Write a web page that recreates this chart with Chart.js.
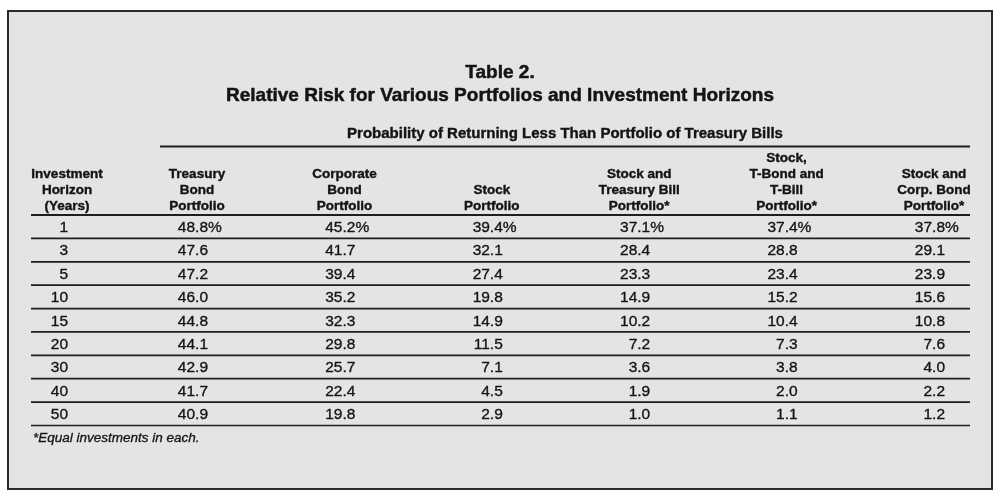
<!DOCTYPE html>
<html>
<head>
<meta charset="utf-8">
<title>Table 2. Relative Risk for Various Portfolios and Investment Horizons</title>
<script src="https://cdn.jsdelivr.net/npm/chart.js@4.4.1/dist/chart.umd.min.js"></script>
<style>
  html, body { margin: 0; padding: 0; background: #ffffff; }
  canvas { display: block; }
</style>
</head>
<body>
<canvas id="riskTable" width="1000" height="497"></canvas>
<script>
// row labels (investment horizon, years)
const years = ['1', '3', '5', '10', '15', '20', '30', '40', '50'];

// column headers, one entry per printed line
const horizonHeader = ['Investment', 'Horizon', '(Years)'];
const portfolioHeaders = [
  ['Treasury', 'Bond', 'Portfolio'],
  ['Corporate', 'Bond', 'Portfolio'],
  ['Stock', 'Portfolio'],
  ['Stock and', 'Treasury Bill', 'Portfolio*'],
  ['Stock,', 'T-Bond and', 'T-Bill', 'Portfolio*'],
  ['Stock and', 'Corp. Bond', 'Portfolio*']
];
const portfolios = portfolioHeaders.map(h => h.join(' '));

// probability (%) of returning less than a portfolio of T-bills
const treasuryBond = [48.8, 47.6, 47.2, 46.0, 44.8, 44.1, 42.9, 41.7, 40.9];
const corporateBond = [45.2, 41.7, 39.4, 35.2, 32.3, 29.8, 25.7, 22.4, 19.8];
const stockOnly = [39.4, 32.1, 27.4, 19.8, 14.9, 11.5, 7.1, 4.5, 2.9];
const stockTBill = [37.1, 28.4, 23.3, 14.9, 10.2, 7.2, 3.6, 1.9, 1.0];
const stockTBondTBill = [37.4, 28.8, 23.4, 15.2, 10.4, 7.3, 3.8, 2.0, 1.1];
const stockCorpBond = [37.8, 29.1, 23.9, 15.6, 10.8, 7.6, 4.0, 2.2, 1.2];

const seriesList = [treasuryBond, corporateBond, stockOnly, stockTBill, stockTBondTBill, stockCorpBond];

const titleLines = ['Table 2.', 'Relative Risk for Various Portfolios and Investment Horizons'];
const spannerText = 'Probability of Returning Less Than Portfolio of Treasury Bills';
const footnote = '*Equal investments in each.';

const FONT = '"Liberation Sans", Arial, Helvetica, sans-serif';
const INK = '#141414';

const datasets = seriesList.map((values, c) => ({
  label: portfolios[c],
  data: values.map((v, r) => ({ x: portfolios[c], y: years[r], v: v })),
  showLine: false,
  pointRadius: 0,
  pointHoverRadius: 0
}));

function rule(ctx, x1, x2, y, w) {
  ctx.beginPath();
  ctx.lineWidth = w;
  ctx.strokeStyle = '#1e1e1e';
  ctx.moveTo(x1, y);
  ctx.lineTo(x2, y);
  ctx.stroke();
}

// the scan prints a bit heavier than a clean font, so ink each glyph twice
function inkText(ctx, text, x, y, weight) {
  ctx.fillText(text, x, y);
  ctx.lineWidth = weight;
  ctx.strokeText(text, x, y);
}

const tablePlugin = {
  id: 'tablePlugin',
  beforeDraw(chart) {
    const ctx = chart.ctx;
    ctx.save();
    ctx.fillStyle = '#ffffff';
    ctx.fillRect(0, 0, chart.width, chart.height);
    // scanned page panel
    ctx.fillStyle = '#e4e4e4';
    ctx.fillRect(8, 11, 984, 478);
    ctx.lineWidth = 2;
    ctx.strokeStyle = '#2b2b2b';
    ctx.strokeRect(8, 11, 984, 478);
    ctx.restore();
  },
  afterDatasetsDraw(chart) {
    const ctx = chart.ctx;
    const xs = chart.scales.x;
    const ys = chart.scales.y;
    const lineLeft = 31, lineRight = 970;
    ctx.save();
    ctx.fillStyle = INK;
    ctx.strokeStyle = INK;
    ctx.lineJoin = 'round';
    ctx.textBaseline = 'middle';

    // title
    ctx.textAlign = 'center';
    ctx.font = 'bold 19px ' + FONT;
    titleLines.forEach((t, i) => inkText(ctx, t, 500, 73 + i * 23, 0.5));

    // spanner over the portfolio columns
    ctx.font = 'bold 15px ' + FONT;
    inkText(ctx, spannerText, (160 + lineRight) / 2, 134, 0.4);
    rule(ctx, 160, lineRight, 146.5, 2.2);

    // column headers, aligned on their last line
    ctx.fillStyle = INK;
    ctx.strokeStyle = INK;
    const headerBottom = ys.top - 9;
    ctx.font = 'bold 13.5px ' + FONT;
    const drawHeader = (lines, x) => {
      lines.forEach((t, i) => inkText(ctx, t, x, headerBottom - (lines.length - 1 - i) * 16, 0.4));
    };
    drawHeader(horizonHeader, 67);
    portfolioHeaders.forEach((lines, c) => drawHeader(lines, xs.getPixelForValue(c)));

    // horizontal rules between rows
    for (let r = -1; r < years.length; r++) {
      rule(ctx, lineLeft, lineRight, ys.getPixelForValue(r + 0.5), r < 0 ? 2 : 1.7);
    }

    // body cells
    ctx.strokeStyle = INK;
    ctx.font = '15.5px ' + FONT;
    ctx.textAlign = 'right';
    years.forEach((y, r) => inkText(ctx, y, 68, ys.getPixelForValue(r) + 1, 0.35));
    chart.data.datasets.forEach((ds, c) => {
      const meta = chart.getDatasetMeta(c);
      meta.data.forEach((pt, r) => {
        const v = ds.data[r].v;
        const xr = pt.x + 11;
        ctx.textAlign = 'right';
        inkText(ctx, v.toFixed(1), xr, pt.y + 1, 0.35);
        if (r === 0) {
          ctx.textAlign = 'left';
          inkText(ctx, '%', xr, pt.y + 1, 0.35);
        }
      });
    });

    // footnote
    ctx.textAlign = 'left';
    ctx.font = 'italic 13.5px ' + FONT;
    inkText(ctx, footnote, 33, 438, 0.3);
    ctx.restore();
  }
};

new Chart(document.getElementById('riskTable'), {
  type: 'line',
  data: { datasets: datasets },
  options: {
    responsive: false,
    animation: false,
    events: [],
    layout: { padding: { left: 197, right: 66, top: 215, bottom: 71.5 } },
    scales: {
      x: { type: 'category', labels: portfolios, offset: false, display: false },
      y: { type: 'category', labels: years, offset: true, display: false }
    },
    plugins: {
      legend: { display: false },
      title: { display: false },
      tooltip: { enabled: false }
    }
  },
  plugins: [tablePlugin]
});
</script>
</body>
</html>
